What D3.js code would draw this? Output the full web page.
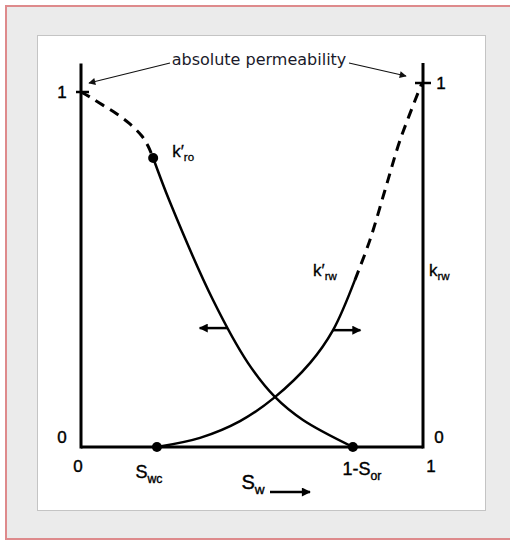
<!DOCTYPE html>
<html>
<head>
<meta charset="utf-8">
<script src="https://cdn.jsdelivr.net/npm/d3@7/dist/d3.min.js"></script>
<style>
html,body{margin:0;padding:0;background:#fff;overflow:hidden;}
svg{display:block;}
</style>
</head>
<body>
<svg id="chart" width="510" height="541"></svg>
<script>
// ---------------- data ----------------
// water saturation S_w (0..1) and relative permeabilities
const kroDashedX = [0, 0.026, 0.064, 0.105, 0.143, 0.178, 0.196, 0.211];
const kroDashedY = [1, 0.986, 0.963, 0.938, 0.910, 0.876, 0.848, 0.814];
const kroSolidX  = [0.211, 0.260, 0.386, 0.488, 0.567, 0.649, 0.795];
const kroSolidY  = [0.814, 0.690, 0.414, 0.237, 0.141, 0.076, 0];
const krwSolidX  = [0.222, 0.348, 0.465, 0.567, 0.670, 0.737, 0.801];
const krwSolidY  = [0, 0.025, 0.071, 0.137, 0.231, 0.321, 0.459];
const krwDashedX = [0.801, 0.845, 0.889, 0.933, 0.997];
const krwDashedY = [0.459, 0.569, 0.706, 0.843, 1];
const endPoints  = [{x: 0.211, y: 0.814}, {x: 0.222, y: 0}, {x: 0.795, y: 0}];
const tickValues = [0, 1];
const Swc = 0.222, oneMinusSor = 0.795;
const arrowLeft  = {x: 0.427, y: 0.335, len: 0.08};   // on k'ro, pointing to lower Sw
const arrowRight = {x: 0.737, y: 0.321, len: 0.08};   // on k'rw, pointing to higher Sw
const axisTopLeft = 1.08, axisTopRight = 1.055;

// ---------------- layout ----------------
const svg = d3.select("#chart");
// frame
svg.append("rect").attr("x", 6).attr("y", 6).attr("width", 600).attr("height", 533)
  .attr("fill", "#ebebeb").attr("stroke", "#de8a8c").attr("stroke-width", 2);
svg.append("rect").attr("x", 37.5).attr("y", 35.5).attr("width", 448).attr("height", 475)
  .attr("fill", "#fff").attr("stroke", "#c4c4c4").attr("stroke-width", 1);

const x  = d3.scaleLinear().domain([0, 1]).range([81, 423]);
const yL = d3.scaleLinear().domain([0, 1]).range([447, 92]);
const yR = d3.scaleLinear().domain([0, 1]).range([447, 83]);

const g = svg.append("g");
const font = "'Liberation Sans', Arial, sans-serif";

// axes lines
g.append("line").attr("x1", x(0)).attr("x2", x(0)).attr("y1", yL(axisTopLeft)).attr("y2", yL(0) + 1.5)
  .attr("stroke", "#000").attr("stroke-width", 3);
g.append("line").attr("x1", x(1)).attr("x2", x(1)).attr("y1", yR(axisTopRight)).attr("y2", yR(0) + 1.5)
  .attr("stroke", "#000").attr("stroke-width", 3);
g.append("line").attr("x1", x(0)).attr("x2", x(1)).attr("y1", yL(0)).attr("y2", yL(0))
  .attr("stroke", "#000").attr("stroke-width", 3);

// tick marks at 1
g.append("line").attr("x1", x(0) - 5).attr("x2", x(0) + 8).attr("y1", yL(1)).attr("y2", yL(1))
  .attr("stroke", "#000").attr("stroke-width", 2.5);
g.append("line").attr("x1", x(1) - 8).attr("x2", x(1) + 8).attr("y1", yR(1)).attr("y2", yR(1))
  .attr("stroke", "#000").attr("stroke-width", 2.5);

// tick labels
const lab = (tx, ty, t, size, anchor) => g.append("text").attr("x", tx).attr("y", ty)
  .attr("font-family", font).attr("font-size", size).attr("text-anchor", anchor || "middle")
  .attr("stroke", "#000").attr("stroke-width", 0.4)
  .attr("fill", "#000").text(t);
tickValues.forEach(v => {
  lab(x(0) - 19, yL(v) + 6 - (v === 0 ? 10 : 0), String(v), 17);
  lab(x(1) + 18 + (v === 0 ? -2 : 0), yR(v) + 6 - (v === 0 ? 10 : 0), String(v), 17);
  lab(x(v) + (v === 0 ? -3 : 8), yL(0) + 25, String(v), 17);
});

// curves
const line = (ys) => d3.line().x(d => x(d[0])).y(d => ys(d[1])).curve(d3.curveCatmullRom.alpha(0.5));
const zip = (a, b) => a.map((v, i) => [v, b[i]]);
g.append("path").attr("d", line(yL)(zip(kroDashedX, kroDashedY)))
  .attr("fill", "none").attr("stroke", "#000").attr("stroke-width", 3).attr("stroke-dasharray", "10,7");
g.append("path").attr("d", line(yL)(zip(kroSolidX, kroSolidY)))
  .attr("fill", "none").attr("stroke", "#000").attr("stroke-width", 2.5);
g.append("path").attr("d", line(yR)(zip(krwSolidX, krwSolidY)))
  .attr("fill", "none").attr("stroke", "#000").attr("stroke-width", 2.5);
g.append("path").attr("d", line(yR)(zip(krwDashedX, krwDashedY)))
  .attr("fill", "none").attr("stroke", "#000").attr("stroke-width", 3).attr("stroke-dasharray", "10,7");

// end points
g.selectAll("circle.pt").data(endPoints).join("circle").attr("class", "pt")
  .attr("cx", d => x(d.x)).attr("cy", d => yL(d.y)).attr("r", 5).attr("fill", "#000");

// arrow markers
const defs = svg.append("defs");
defs.append("marker").attr("id", "head").attr("viewBox", "0 0 10 10").attr("refX", 9).attr("refY", 5)
  .attr("markerWidth", 11).attr("markerHeight", 9).attr("markerUnits", "userSpaceOnUse").attr("orient", "auto")
  .append("path").attr("d", "M0,0 L10,5 L0,10 z").attr("fill", "#000");
defs.append("marker").attr("id", "thin").attr("viewBox", "0 0 10 10").attr("refX", 9).attr("refY", 5)
  .attr("markerWidth", 11).attr("markerHeight", 7).attr("markerUnits", "userSpaceOnUse").attr("orient", "auto")
  .append("path").attr("d", "M0,0 L10,5 L0,10 z").attr("fill", "#111");

g.append("line").attr("x1", x(arrowLeft.x)).attr("x2", x(arrowLeft.x - arrowLeft.len))
  .attr("y1", yL(arrowLeft.y)).attr("y2", yL(arrowLeft.y))
  .attr("stroke", "#000").attr("stroke-width", 2.5).attr("marker-end", "url(#head)");
g.append("line").attr("x1", x(arrowRight.x)).attr("x2", x(arrowRight.x + arrowRight.len))
  .attr("y1", yR(arrowRight.y)).attr("y2", yR(arrowRight.y))
  .attr("stroke", "#000").attr("stroke-width", 2.5).attr("marker-end", "url(#head)");

// absolute permeability annotation
g.append("text").attr("x", 259).attr("y", 65).attr("text-anchor", "middle")
  .attr("font-family", "'DejaVu Sans', Verdana, sans-serif").attr("font-size", 16).attr("fill", "#1a1a2a")
  .text("absolute permeability");
g.append("line").attr("x1", 170).attr("y1", 63).attr("x2", x(0) + 8).attr("y2", yL(1) - 9)
  .attr("stroke", "#111").attr("stroke-width", 1.2).attr("marker-end", "url(#thin)");
g.append("line").attr("x1", 349).attr("y1", 63).attr("x2", x(1) - 17).attr("y2", yR(1) - 7)
  .attr("stroke", "#111").attr("stroke-width", 1.2).attr("marker-end", "url(#thin)");

// curve labels with subscripts
function kLabel(tx, ty, sub, prime) {
  const t = g.append("text").attr("x", tx).attr("y", ty).attr("font-family", font)
    .attr("font-size", 17).attr("fill", "#000").attr("stroke", "#000").attr("stroke-width", 0.3);
  t.append("tspan").text("k" + (prime ? "\u2032" : ""));
  t.append("tspan").attr("font-size", 11.5).attr("dy", 4).text(sub);
}
kLabel(x(0.211) + 19, yL(0.814) - 1, "ro", true);
kLabel(313, 276, "rw", true);
kLabel(x(1) + 6, 276, "rw", false);

// Swc, 1-Sor, Sw labels
function sLabel(tx, ty, main, sub, size) {
  const t = g.append("text").attr("x", tx).attr("y", ty).attr("font-family", font)
    .attr("font-size", size).attr("fill", "#000").attr("stroke", "#000").attr("stroke-width", 0.4)
    .attr("text-anchor", "middle");
  t.append("tspan").text(main);
  t.append("tspan").attr("font-size", size * 0.68).attr("dy", 5).text(sub);
}
sLabel(x(Swc) - 8, yL(0) + 31, "S", "wc", 18);
sLabel(x(oneMinusSor) + 9, yL(0) + 28, "1-S", "or", 18);
sLabel(253, 489, "S", "w", 20);
g.append("line").attr("x1", 270).attr("x2", 310).attr("y1", 492).attr("y2", 492)
  .attr("stroke", "#000").attr("stroke-width", 2.5).attr("marker-end", "url(#head)");
</script>
</body>
</html>
